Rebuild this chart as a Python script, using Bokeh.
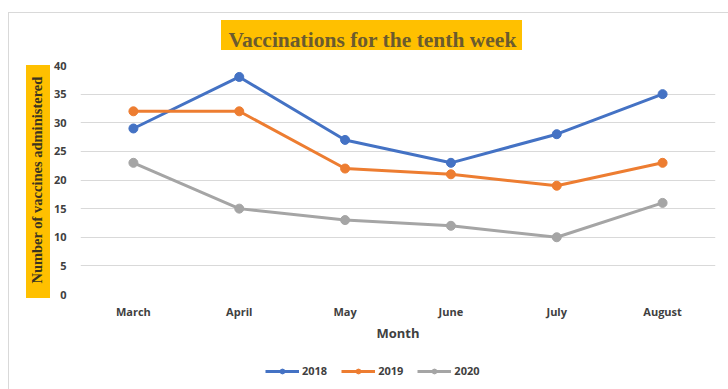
from bokeh.plotting import figure
from bokeh.models import Range1d, Legend, LegendItem, FactorRange, Title
from bokeh.layouts import column
from bokeh.embed import file_html
from bokeh.resources import INLINE

months = ["March", "April", "May", "June", "July", "August"]
y2018 = [29, 38, 27, 23, 28, 35]
y2019 = [32, 32, 22, 21, 19, 23]
y2020 = [23, 15, 13, 12, 10, 16]
series_names = ["2018", "2019", "2020"]
colors = ["#4472C4", "#ED7D31", "#A5A5A5"]
y_ticks = [0, 5, 10, 15, 20, 25, 30, 35, 40]

GRAY = "#D9D9D9"
YEL = "#FFC000"
tick_font = "Open Sans"

p = figure(width=728, height=355, x_range=FactorRange(*months), y_range=Range1d(0, 40),
           output_backend="svg", toolbar_location=None,
           min_border_left=80, min_border_right=13, min_border_top=65, min_border_bottom=61)
p.outline_line_color = None
p.background_fill_color = "white"
p.border_fill_alpha = 0
p.styles = {
    "background": (
        f"linear-gradient({YEL},{YEL}) 221px 20px / 301px 30px no-repeat, "
        f"linear-gradient({YEL},{YEL}) 26px 65px / 24px 233px no-repeat, "
        f"linear-gradient({GRAY},{GRAY}) 8px 12px / 1px 400px no-repeat, "
        f"linear-gradient({GRAY},{GRAY}) 8px 12px / 730px 1px no-repeat, white"
    )
}

p.xgrid.grid_line_color = None
p.ygrid.grid_line_color = GRAY
p.ygrid.grid_line_width = 1
p.yaxis.ticker = y_ticks
for ax in (p.xaxis, p.yaxis):
    ax.axis_line_color = None
    ax.major_tick_line_color = None
    ax.minor_tick_line_color = None
    ax.major_label_text_font = tick_font
    ax.major_label_text_font_style = "bold"
    ax.major_label_text_font_size = "11px"
    ax.major_label_text_color = "#404040"
p.yaxis.major_label_standoff = 8
p.xaxis.major_label_standoff = 3
p.xaxis.axis_label = "Month"
p.xaxis.axis_label_text_font = tick_font
p.xaxis.axis_label_text_font_style = "bold"
p.xaxis.axis_label_text_font_size = "13px"
p.xaxis.axis_label_text_color = "#404040"
p.xaxis.axis_label_standoff = 2

p.yaxis.axis_label = "Number of vaccines administered"
p.yaxis.axis_label_text_font = "Liberation Serif"
p.yaxis.axis_label_text_font_style = "bold"
p.yaxis.axis_label_text_font_size = "14.5px"
p.yaxis.axis_label_text_color = "#3A3320"
p.yaxis.axis_label_standoff = 6

series = [y2018, y2019, y2020]
for name, vals, c in zip(series_names, series, colors):
    p.line(months, vals, line_color=c, line_width=3)
    p.scatter(months, vals, size=9, fill_color=c, line_color=c)

title = Title(text="Vaccinations for the tenth week", align="left", offset=148,
              text_font="Liberation Serif", text_font_style="bold", text_font_size="21.5px",
              text_color="#6B5B2E", standoff=27)
p.add_layout(title, "above")

# legend strip below the chart (its series lie outside its visible range; only the key shows)
q = figure(width=728, height=34, x_range=FactorRange(*months), y_range=Range1d(-10, -9),
           output_backend="svg", toolbar_location=None,
           min_border_left=0, min_border_right=0, min_border_top=0, min_border_bottom=0)
q.axis.visible = False
q.grid.grid_line_color = None
q.outline_line_color = None
q.border_fill_alpha = 0
q.background_fill_alpha = 0
q.styles = {"background": f"linear-gradient({GRAY},{GRAY}) 8px 0px / 1px 40px no-repeat, white"}
items = []
for name, vals, c in zip(series_names, series, colors):
    l = q.line(months, vals, line_color=c, line_width=3)
    s = q.scatter(months, vals, size=9, fill_color=c, line_color=c)
    items.append(LegendItem(label=name, renderers=[l, s]))
legend = Legend(items=items, orientation="horizontal", location=(185, 11),
                padding=0, margin=0, spacing=14, glyph_width=34, glyph_height=12,
                label_height=12, label_standoff=3, border_line_color=None,
                background_fill_alpha=0,
                label_text_font=tick_font, label_text_font_style="bold",
                label_text_font_size="11px", label_text_color="#404040")
q.add_layout(legend)

open("out.html", "w").write(file_html(column(p, q, spacing=0), INLINE))
